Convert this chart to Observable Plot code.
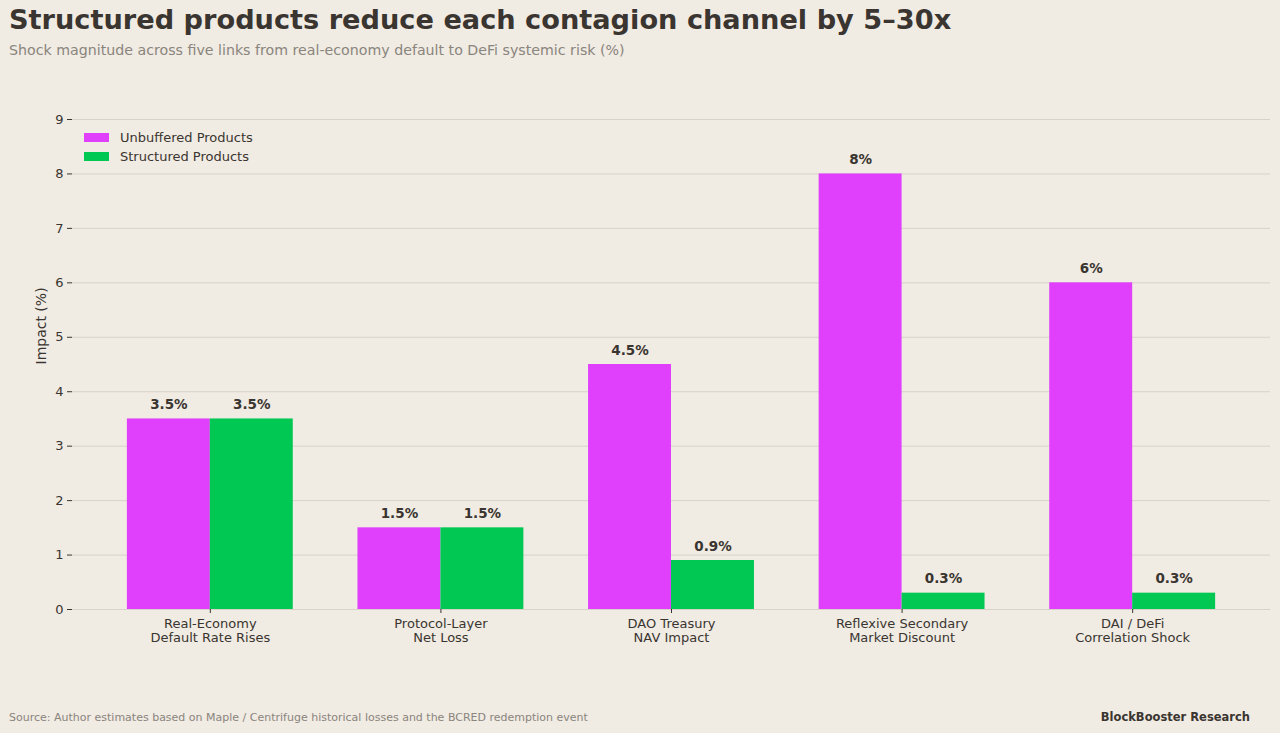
<!DOCTYPE html>
<html>
<head>
<meta charset="utf-8">
<script src="https://cdn.jsdelivr.net/npm/d3@7"></script>
<script src="https://cdn.jsdelivr.net/npm/@observablehq/plot@0.6"></script>
<style>
  html, body { margin: 0; padding: 0; background: #f0ebe3; }
  body { font-family: "DejaVu Sans", sans-serif; }
  #wrap { position: relative; width: 1280px; height: 733px; overflow: hidden; }
  #title { position: absolute; left: 9px; top: 4px; font-size: 27.2px; font-weight: bold; color: #3a3530; white-space: nowrap; }
  #subtitle { position: absolute; left: 9px; top: 42px; font-size: 14.2px; color: #8a857d; white-space: nowrap; }
  #chart { position: absolute; left: 0; top: 70px; }
  #legend { position: absolute; left: 84px; top: 128px; font-size: 13px; color: #3a3530; }
  .item { display: flex; align-items: center; height: 19px; }
  .sw { width: 25px; height: 9px; margin-right: 11px; }
  #source { position: absolute; left: 9px; top: 711px; font-size: 11px; color: #8a857d; white-space: nowrap; }
  #brand { position: absolute; right: 30px; top: 710px; font-size: 11.5px; font-weight: bold; color: #3a3530; white-space: nowrap; }
</style>
</head>
<body>
<div id="wrap">
  <div id="title">Structured products reduce each contagion channel by 5–30x</div>
  <div id="subtitle">Shock magnitude across five links from real-economy default to DeFi systemic risk (%)</div>
  <div id="chart"></div>
  <div id="legend"></div>
  <div id="source">Source: Author estimates based on Maple / Centrifuge historical losses and the BCRED redemption event</div>
  <div id="brand">BlockBooster Research</div>
</div>
<script>
// Contagion channels and shock magnitudes (%)
const channels = [
  "Real-Economy\nDefault Rate Rises",
  "Protocol-Layer\nNet Loss",
  "DAO Treasury\nNAV Impact",
  "Reflexive Secondary\nMarket Discount",
  "DAI / DeFi\nCorrelation Shock"
];
const unbuffered = [3.5, 1.5, 4.5, 8, 6];
const structured = [3.5, 1.5, 0.9, 0.3, 0.3];
const seriesNames = ["Unbuffered Products", "Structured Products"];
const seriesColors = ["#e040fb", "#00c853"];
const yTicks = [0, 1, 2, 3, 4, 5, 6, 7, 8, 9];

const rows = [];
channels.forEach((c, i) => {
  rows.push({channel: c, series: seriesNames[0], value: unbuffered[i]});
  rows.push({channel: c, series: seriesNames[1], value: structured[i]});
});

const width = 1280;
const marginLeft = 72, marginRight = 10;
const paddingInner = 0.2806, paddingOuter = 0.238;
// Same band geometry as the plot's x scale, used to split each band in two
const xScale = d3.scaleBand().domain(channels)
  .range([marginLeft, width - marginRight])
  .paddingInner(paddingInner).paddingOuter(paddingOuter);
const half = xScale.bandwidth() / 2;

const fmt = v => `${v}%`;
const ink = "#3a3530";

const chart = Plot.plot({
  width,
  height: 620,
  marginLeft,
  marginRight,
  marginTop: 49,
  marginBottom: 81,
  style: {background: "transparent", fontFamily: "DejaVu Sans, sans-serif", fontSize: "13px", color: ink},
  x: {type: "band", domain: channels, paddingInner, paddingOuter, round: false, label: null},
  y: {domain: [0, 9], label: null},
  color: {domain: seriesNames, range: seriesColors},
  marks: [
    Plot.ruleY(yTicks, {stroke: "#d8d2c9", strokeWidth: 1}),
    // Unbuffered bar sits in the left half of each channel band, structured in the right half
    Plot.barY(rows.filter(d => d.series === seriesNames[0]), {
      x: "channel", y: "value", fill: "series", insetRight: half
    }),
    Plot.barY(rows.filter(d => d.series === seriesNames[1]), {
      x: "channel", y: "value", fill: "series", insetLeft: half
    }),
    Plot.text(rows.filter(d => d.series === seriesNames[0]), {
      x: "channel", y: "value", text: d => fmt(d.value), dx: -half / 2, dy: -14,
      fontWeight: "bold", fontSize: 13.5, fill: ink
    }),
    Plot.text(rows.filter(d => d.series === seriesNames[1]), {
      x: "channel", y: "value", text: d => fmt(d.value), dx: half / 2, dy: -14,
      fontWeight: "bold", fontSize: 13.5, fill: ink
    }),
    Plot.axisY({ticks: yTicks, tickSize: 5, tickPadding: 4, label: null, stroke: ink, fill: ink, fontSize: 13}),
    Plot.axisX({tickSize: 4, tickPadding: 4, label: null, stroke: ink, fill: ink, fontSize: 13, lineHeight: 1.1}),
    Plot.text(["Impact (%)"], {
      frameAnchor: "left", dx: -31, rotate: -90, fontSize: 14, fill: ink
    })
  ]
});
document.getElementById("chart").appendChild(chart);

const legend = document.getElementById("legend");
seriesNames.forEach((name, i) => {
  const item = document.createElement("div");
  item.className = "item";
  const sw = document.createElement("span");
  sw.className = "sw";
  sw.style.background = seriesColors[i];
  const label = document.createElement("span");
  label.textContent = name;
  item.appendChild(sw);
  item.appendChild(label);
  legend.appendChild(item);
});
</script>
</body>
</html>
